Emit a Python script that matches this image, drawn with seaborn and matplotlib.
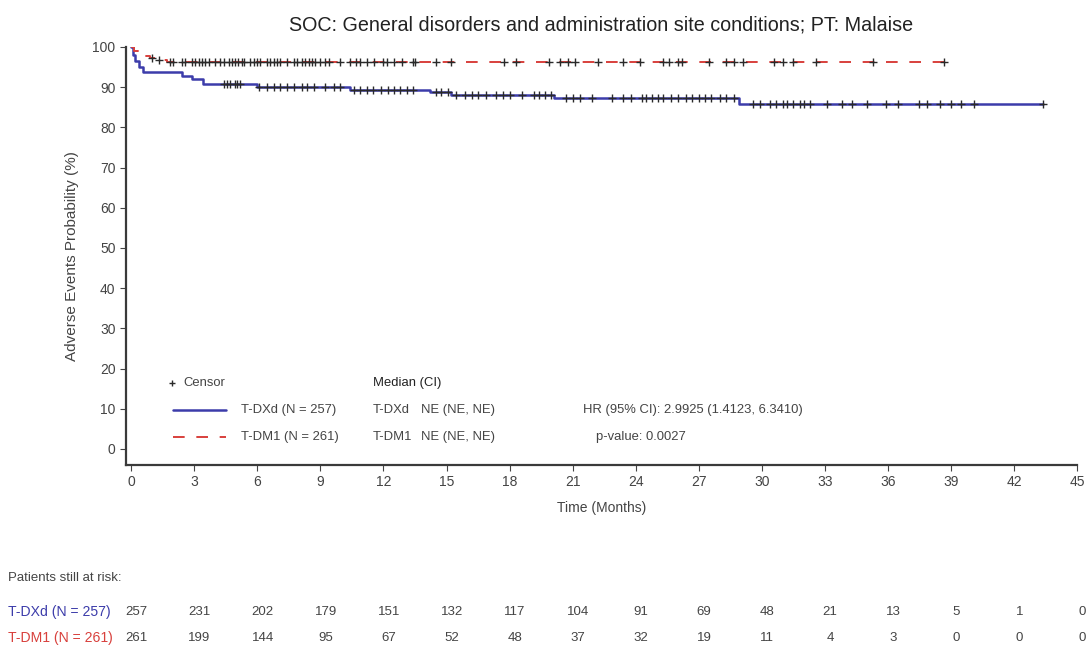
import numpy as np
import pandas as pd
import matplotlib
matplotlib.use("Agg")
import matplotlib.pyplot as plt
import seaborn as sns

# Kaplan-Meier style step curves (time in months, probability in %)
dxd_times = [0.0, 0.1, 0.2, 0.35, 0.55, 2.4, 2.9, 3.4, 6.0, 10.4, 14.2, 15.2, 20.1, 28.9, 43.4]
dxd_prob = [100.0, 98.0, 96.5, 95.0, 93.7, 92.8, 92.0, 90.9, 90.0, 89.4, 88.7, 88.0, 87.2, 85.7, 85.7]

dm1_times = [0.0, 0.15, 0.3, 0.5, 0.9, 1.3, 1.7, 38.8]
dm1_prob = [100.0, 99.0, 98.5, 97.8, 97.3, 96.8, 96.2, 96.2]

# Censoring times
dxd_censor = [4.4, 4.56, 4.71, 4.95, 5.03, 5.19, 6.06, 6.46, 6.78, 7.1, 7.41, 7.73, 8.13,
              8.37, 8.68, 9.24, 9.63, 9.95, 10.6, 10.9, 11.2, 11.5, 11.9, 12.2, 12.5, 12.8,
              13.1, 13.4, 14.5, 14.75, 15.05, 15.45, 15.9, 16.2, 16.5, 16.9, 17.35, 17.7,
              18.0, 18.6, 19.15, 19.4, 19.7, 19.95, 20.7, 21.0, 21.36, 21.9, 22.86, 23.4,
              23.8, 24.3, 24.5, 24.8, 25.06, 25.3, 25.7, 26.0, 26.4, 26.7, 27.0, 27.3, 27.6,
              28.0, 28.3, 28.7, 29.6, 29.9, 30.4, 30.7, 31.0, 31.2, 31.5, 31.8, 32.0, 32.3,
              33.1, 33.8, 34.3, 35.0, 35.9, 36.5, 37.5, 37.85, 38.5, 39.0, 39.5, 40.1, 43.4]
dm1_censor = [0.98, 1.3, 1.86, 2.0, 2.41, 2.57, 2.89, 3.05, 3.2, 3.37, 3.52, 3.68, 4.0, 4.24,
              4.4, 4.63, 4.79, 4.95, 5.1, 5.27, 5.35, 5.67, 5.83, 5.98, 6.14, 6.46, 6.62, 6.78,
              6.94, 7.1, 7.41, 7.73, 7.89, 8.13, 8.29, 8.44, 8.6, 8.76, 9.0, 9.24, 9.4, 9.95,
              10.43, 10.67, 10.9, 11.22, 11.54, 12.0, 12.17, 12.49, 12.89, 13.4, 13.5, 14.5,
              15.2, 17.75, 18.3, 19.9, 20.4, 20.8, 21.1, 22.2, 23.4, 24.2, 25.3, 25.6, 26.0,
              26.2, 27.5, 28.3, 28.7, 29.1, 30.6, 31.0, 31.5, 32.6, 35.3, 38.65]

# Number at risk
risk_times = [0, 3, 6, 9, 12, 15, 18, 21, 24, 27, 30, 33, 36, 39, 42, 45]
dxd_risk = [257, 231, 202, 179, 151, 132, 117, 104, 91, 69, 48, 21, 13, 5, 1, 0]
dm1_risk = [261, 199, 144, 95, 67, 52, 48, 37, 32, 19, 11, 4, 3, 0, 0, 0]

arm_labels = ["T-DXd (N = 257)", "T-DM1 (N = 261)"]
title = "SOC: General disorders and administration site conditions; PT: Malaise"

BLUE = "#3c3caa"
RED = "#d8403c"
GREY = "#3a3a3a"
TEXT = "#444444"

sns.set_theme(style="ticks")
plt.rcParams["font.family"] = ["Liberation Sans", "DejaVu Sans"]


def step_value(times, probs, t):
    idx = np.searchsorted(np.asarray(times), t, side="right") - 1
    return np.asarray(probs)[idx]


fig = plt.figure(figsize=(10.89, 6.57), dpi=100)
ax = fig.add_axes([0.1157, 0.2922, 0.8733, 0.6363])

curves = pd.concat([
    pd.DataFrame({"time": dxd_times, "prob": dxd_prob, "arm": arm_labels[0]}),
    pd.DataFrame({"time": dm1_times, "prob": dm1_prob, "arm": arm_labels[1]}),
])
sns.lineplot(data=curves[curves.arm == arm_labels[0]], x="time", y="prob",
             drawstyle="steps-post", color=BLUE, linewidth=1.8, ax=ax, legend=False)
sns.lineplot(data=curves[curves.arm == arm_labels[1]], x="time", y="prob",
             drawstyle="steps-post", color=RED, linewidth=1.4, ax=ax, legend=False,
             dashes=False)
ax.lines[-1].set_dashes((6, 6))

cens = pd.concat([
    pd.DataFrame({"time": dxd_censor,
                  "prob": [step_value(dxd_times, dxd_prob, t) for t in dxd_censor]}),
    pd.DataFrame({"time": dm1_censor,
                  "prob": [step_value(dm1_times, dm1_prob, t) for t in dm1_censor]}),
])
sns.scatterplot(data=cens, x="time", y="prob", marker="+", s=30, color="#2a2a2a",
                linewidth=1.0, ax=ax, zorder=3, legend=False)

ax.set_xlim(-0.25, 45)
ax.set_ylim(-4, 100)
ax.set_xticks(risk_times)
ax.set_yticks(range(0, 101, 10))
ax.tick_params(axis="both", labelsize=10, colors=TEXT, length=4, width=0.8, direction="out")
for side in ("top", "right"):
    ax.spines[side].set_visible(False)
for side in ("left", "bottom"):
    ax.spines[side].set_color(GREY)
    ax.spines[side].set_linewidth(1.6)
ax.set_xlabel("Time (Months)", fontsize=10, color=TEXT, labelpad=8)
ax.set_ylabel("Adverse Events Probability (%)", fontsize=11, color=TEXT, labelpad=10)
ax.set_title(title, fontsize=14.2, color="#222222", pad=12)

# Legend and summary statistics block
fs = 9.4
ax.plot([1.95], [16.4], marker="+", color="#2a2a2a", ms=5, mew=1.0)
ax.text(2.5, 16.4, "Censor", fontsize=fs, color=TEXT, va="center")
ax.plot([2.0, 4.5], [9.7, 9.7], color=BLUE, lw=1.8)
ax.plot([2.0, 4.5], [3.0, 3.0], color=RED, lw=1.4, dashes=(6, 6))
ax.text(5.2, 9.7, arm_labels[0], fontsize=fs, color=TEXT, va="center")
ax.text(5.2, 3.0, arm_labels[1], fontsize=fs, color=TEXT, va="center")
ax.text(11.5, 16.4, "Median (CI)", fontsize=fs, color="#222222", va="center", weight="medium")
ax.text(11.5, 9.7, "T-DXd", fontsize=fs, color=TEXT, va="center")
ax.text(11.5, 3.0, "T-DM1", fontsize=fs, color=TEXT, va="center")
ax.text(13.8, 9.7, "NE (NE, NE)", fontsize=fs, color=TEXT, va="center")
ax.text(13.8, 3.0, "NE (NE, NE)", fontsize=fs, color=TEXT, va="center")
ax.text(21.5, 9.7, "HR (95% CI): 2.9925 (1.4123, 6.3410)", fontsize=fs, color=TEXT, va="center")
ax.text(22.1, 3.0, "p-value: 0.0027", fontsize=fs, color=TEXT, va="center")

# Number-at-risk table
tab = fig.add_axes([0.1157, 0.0, 0.8733, 0.16])
tab.set_xlim(-0.25, 45)
tab.set_ylim(0, 1)
tab.axis("off")
fig.text(8 / 1089, 1 - 578 / 657, "Patients still at risk:", fontsize=9.5, color=TEXT, va="center")
fig.text(8 / 1089, 1 - 612 / 657, arm_labels[0], fontsize=10.1, color=BLUE, va="center")
fig.text(8 / 1089, 1 - 638 / 657, arm_labels[1], fontsize=10.1, color=RED, va="center")
row_y = [(657 - 612) / (0.16 * 657), (657 - 638) / (0.16 * 657)]
for t, a, b in zip(risk_times, dxd_risk, dm1_risk):
    tab.text(t + 0.25, row_y[0], str(a), fontsize=9.5, color=TEXT, ha="center", va="center")
    tab.text(t + 0.25, row_y[1], str(b), fontsize=9.5, color=TEXT, ha="center", va="center")

fig.savefig("out.png", dpi=100)
